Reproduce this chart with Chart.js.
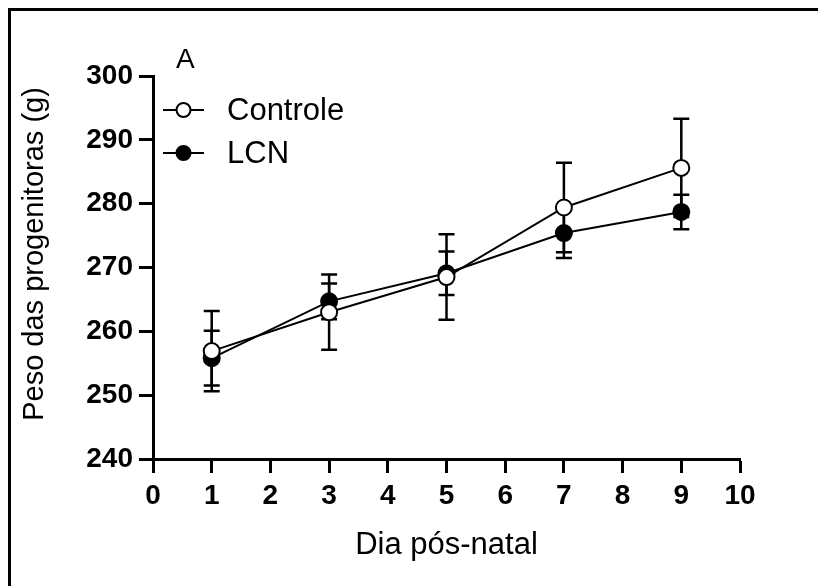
<!DOCTYPE html>
<html>
<head>
<meta charset="utf-8">
<script src="https://cdn.jsdelivr.net/npm/chart.js@4"></script>
<style>
  html, body { margin: 0; padding: 0; background: #fff; }
  #wrap { width: 818px; height: 586px; }
</style>
</head>
<body>
<div id="wrap"><canvas id="myChart" width="818" height="586"></canvas></div>
<script>
// dias pós-natal
const dias = [1, 3, 5, 7, 9];
// peso médio e erro padrão
const controleMedia = [256.9, 263.0, 268.5, 279.4, 285.6];
const controleErro = [6.3, 5.9, 6.7, 7.0, 7.7];
const lcnMedia = [255.8, 264.7, 269.1, 275.4, 278.7];
const lcnErro = [4.3, 2.8, 3.4, 3.9, 2.7];
const xTicks = [0, 1, 2, 3, 4, 5, 6, 7, 8, 9, 10];
const yTicks = [240, 250, 260, 270, 280, 290, 300];
const yTitulo = 'Peso das progenitoras (g)';
const xTitulo = 'Dia pós-natal';

const fonte = "'Liberation Sans', Arial, sans-serif";

function pontos(xs, ys) {
    return xs.map((x, i) => ({ x: x, y: ys[i] }));
}

// barras de erro atrás dos pontos
const errorBars = {
    id: 'errorBars',
    beforeDatasetsDraw(chart) {
        const ctx = chart.ctx;
        const xs = chart.scales.x, ys = chart.scales.y;
        const erros = [controleErro, lcnErro];
        ctx.save();
        ctx.strokeStyle = '#000';
        ctx.lineWidth = 2.5;
        chart.data.datasets.forEach((ds, d) => {
            ds.data.forEach((p, i) => {
                const px = xs.getPixelForValue(p.x);
                const top = ys.getPixelForValue(p.y + erros[d][i]);
                const bot = ys.getPixelForValue(p.y - erros[d][i]);
                ctx.beginPath();
                ctx.moveTo(px, top); ctx.lineTo(px, bot);
                ctx.moveTo(px - 8, top); ctx.lineTo(px + 8, top);
                ctx.moveTo(px - 8, bot); ctx.lineTo(px + 8, bot);
                ctx.stroke();
            });
        });
        ctx.restore();
    }
};

// legenda, letra do painel, titulo do eixo y e moldura
const extras = {
    id: 'extras',
    afterDraw(chart) {
        const ctx = chart.ctx;
        ctx.save();
        // moldura (só topo e esquerda)
        ctx.fillStyle = '#000';
        ctx.fillRect(8, 8, 818 - 8, 3);
        ctx.fillRect(8, 8, 3, 586 - 8);

        ctx.font = '28px ' + fonte;
        ctx.textBaseline = 'middle';
        ctx.textAlign = 'left';
        ctx.fillText('A', 176, 60);

        // titulo do eixo y
        ctx.save();
        ctx.translate(35, 254);
        ctx.rotate(-Math.PI / 2);
        ctx.textAlign = 'center';
        ctx.font = '29px ' + fonte;
        ctx.fillText(yTitulo, 0, 0);
        ctx.restore();

        const itens = [
            { label: 'Controle', fill: '#fff', y: 110 },
            { label: 'LCN', fill: '#000', y: 153 }
        ];
        ctx.font = '31px ' + fonte;
        itens.forEach(it => {
            ctx.strokeStyle = '#000';
            ctx.lineWidth = 2;
            ctx.beginPath();
            ctx.moveTo(163, it.y); ctx.lineTo(204, it.y);
            ctx.stroke();
            ctx.beginPath();
            ctx.arc(183.5, it.y, 7, 0, Math.PI * 2);
            ctx.fillStyle = it.fill;
            ctx.fill();
            ctx.stroke();
            ctx.fillStyle = '#000';
            ctx.fillText(it.label, 227, it.y + 1);
        });
        ctx.restore();
    }
};

const ctx = document.getElementById('myChart').getContext('2d');
const myChart = new Chart(ctx, {
    type: 'scatter',
    data: {
        datasets: [{
            label: 'Controle',
            data: pontos(dias, controleMedia),
            showLine: true,
            borderColor: '#000',
            borderWidth: 2,
            pointRadius: 8,
            pointBorderWidth: 2,
            pointBackgroundColor: '#fff',
            pointBorderColor: '#000'
        }, {
            label: 'LCN',
            data: pontos(dias, lcnMedia),
            showLine: true,
            borderColor: '#000',
            borderWidth: 2,
            pointRadius: 8,
            pointBorderWidth: 2,
            pointBackgroundColor: '#000',
            pointBorderColor: '#000'
        }]
    },
    options: {
        responsive: false,
        animation: false,
        events: [],
        layout: { padding: { top: 76, right: 78, left: 0, bottom: 0 } },
        plugins: {
            legend: { display: false },
            tooltip: { enabled: false }
        },
        scales: {
            x: {
                type: 'linear',
                min: 0,
                max: 10,
                afterFit(scale) { scale.height = 586 - 459; },
                afterBuildTicks(scale) { scale.ticks = xTicks.map(v => ({ value: v })); },
                border: { display: true, color: '#000', width: 3 },
                grid: { drawOnChartArea: false, drawTicks: true, tickLength: 14, tickWidth: 3, tickColor: '#000' },
                ticks: {
                    color: '#000',
                    padding: 6,
                    font: { family: fonte, size: 28, weight: 'bold' }
                },
                title: {
                    display: true,
                    text: xTitulo,
                    color: '#000',
                    padding: { top: 0, bottom: 22 },
                    font: { family: fonte, size: 31 }
                }
            },
            y: {
                type: 'linear',
                min: 240,
                max: 300,
                afterFit(scale) { scale.width = 153; },
                afterBuildTicks(scale) { scale.ticks = yTicks.map(v => ({ value: v })); },
                border: { display: true, color: '#000', width: 3 },
                grid: { drawOnChartArea: false, drawTicks: true, tickLength: 14, tickWidth: 3, tickColor: '#000' },
                ticks: {
                    color: '#000',
                    padding: 6,
                    font: { family: fonte, size: 28, weight: 'bold' }
                }
            }
        }
    },
    plugins: [errorBars, extras]
});
</script>
</body>
</html>
